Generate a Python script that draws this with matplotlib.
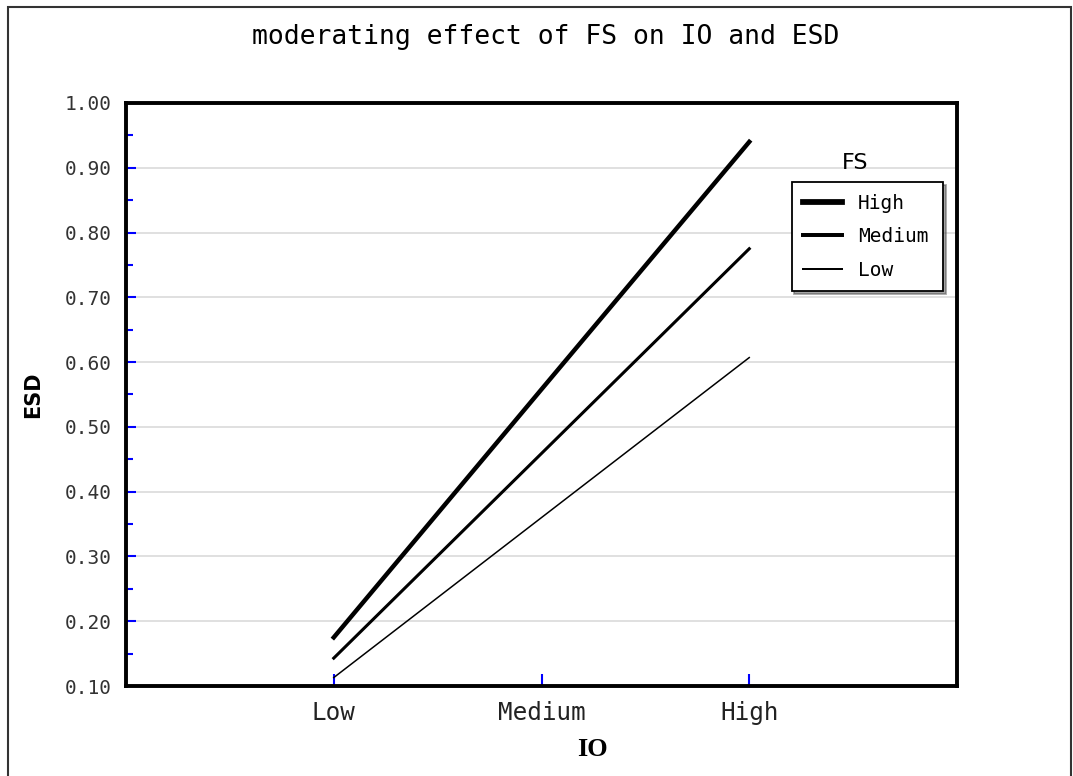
import matplotlib
matplotlib.use("Agg")
import matplotlib.pyplot as plt
from matplotlib.patches import Rectangle
from matplotlib.ticker import MultipleLocator, FormatStrFormatter

# simple slopes: ESD against IO for three levels of FS
io_levels = ["Low", "Medium", "High"]
esd_fs_high = [0.175, 0.558, 0.940]
esd_fs_medium = [0.143, 0.459, 0.775]
esd_fs_low = [0.113, 0.360, 0.607]
fs_labels = ["High", "Medium", "Low"]

mono = "DejaVu Sans Mono"

fig = plt.figure(figsize=(10.73, 7.76), dpi=100)
ax = fig.add_axes([126 / 1073, 1 - 686 / 776, 831 / 1073, 583 / 776])

x = list(range(len(io_levels)))
ax.plot(x, esd_fs_high, color="black", linewidth=3.2, label=fs_labels[0], zorder=3)
ax.plot(x, esd_fs_medium, color="black", linewidth=2.2, label=fs_labels[1], zorder=3)
ax.plot(x, esd_fs_low, color="black", linewidth=1.1, label=fs_labels[2], zorder=3)

ax.set_xlim(-1, 3)
ax.set_ylim(0.10, 1.00)
ax.set_xticks(x)
ax.set_xticklabels(io_levels, fontfamily=mono, fontsize=17.5, color="#222222")
ax.yaxis.set_major_locator(MultipleLocator(0.1))
ax.yaxis.set_minor_locator(MultipleLocator(0.05))
ax.yaxis.set_major_formatter(FormatStrFormatter("%.2f"))
for lab in ax.get_yticklabels():
    lab.set_fontfamily(mono)
    lab.set_fontsize(14)
    lab.set_color("#333333")

ax.tick_params(axis="y", which="major", direction="in", length=7, width=1.5,
               color="blue", pad=10)
ax.tick_params(axis="y", which="minor", direction="in", length=5, width=1.5,
               color="blue")
ax.tick_params(axis="x", which="major", direction="in", length=9, width=1.5,
               color="blue", pad=11)

ax.grid(axis="y", which="major", color="#dddddd", linewidth=1.3, zorder=0)
for sp in ax.spines.values():
    sp.set_linewidth(2.8)
    sp.set_color("black")

ax.set_xlabel("IO", fontfamily="Liberation Serif", fontweight="bold", fontsize=19)
ax.xaxis.set_label_coords(0.561, -0.09)
ax.set_ylabel("ESD", fontfamily="DejaVu Sans", fontweight="bold", fontsize=15)
ax.yaxis.set_label_coords(-0.1, 0.5)

fig.text(546 / 1073, 1 - 37 / 776, "moderating effect of FS on IO and ESD",
         ha="center", va="center", fontfamily=mono, fontsize=19)

leg = ax.legend(loc="upper left", bbox_to_anchor=(0.801, 0.676, 0.182, 0.1885),
                mode="expand", frameon=True, fancybox=False, shadow=True,
                prop={"family": mono, "size": 14}, handlelength=2.0,
                borderpad=0.6, labelspacing=0.75, borderaxespad=0)
leg.get_frame().set_edgecolor("black")
leg.get_frame().set_linewidth(1.3)
for line in leg.get_lines():
    line.set_linewidth(line.get_linewidth() * 1.3)
ax.text(0.877, 0.897, "FS", transform=ax.transAxes, ha="center", va="center",
        fontfamily="DejaVu Sans", fontsize=16)

# outer frame around the whole image
fig.patches.append(Rectangle((8 / 1073, -0.01), 1063 / 1073, 1.01 - 7 / 776,
                             transform=fig.transFigure, fill=False,
                             edgecolor="#333333", linewidth=1.5))

fig.savefig("out.png", dpi=100)
